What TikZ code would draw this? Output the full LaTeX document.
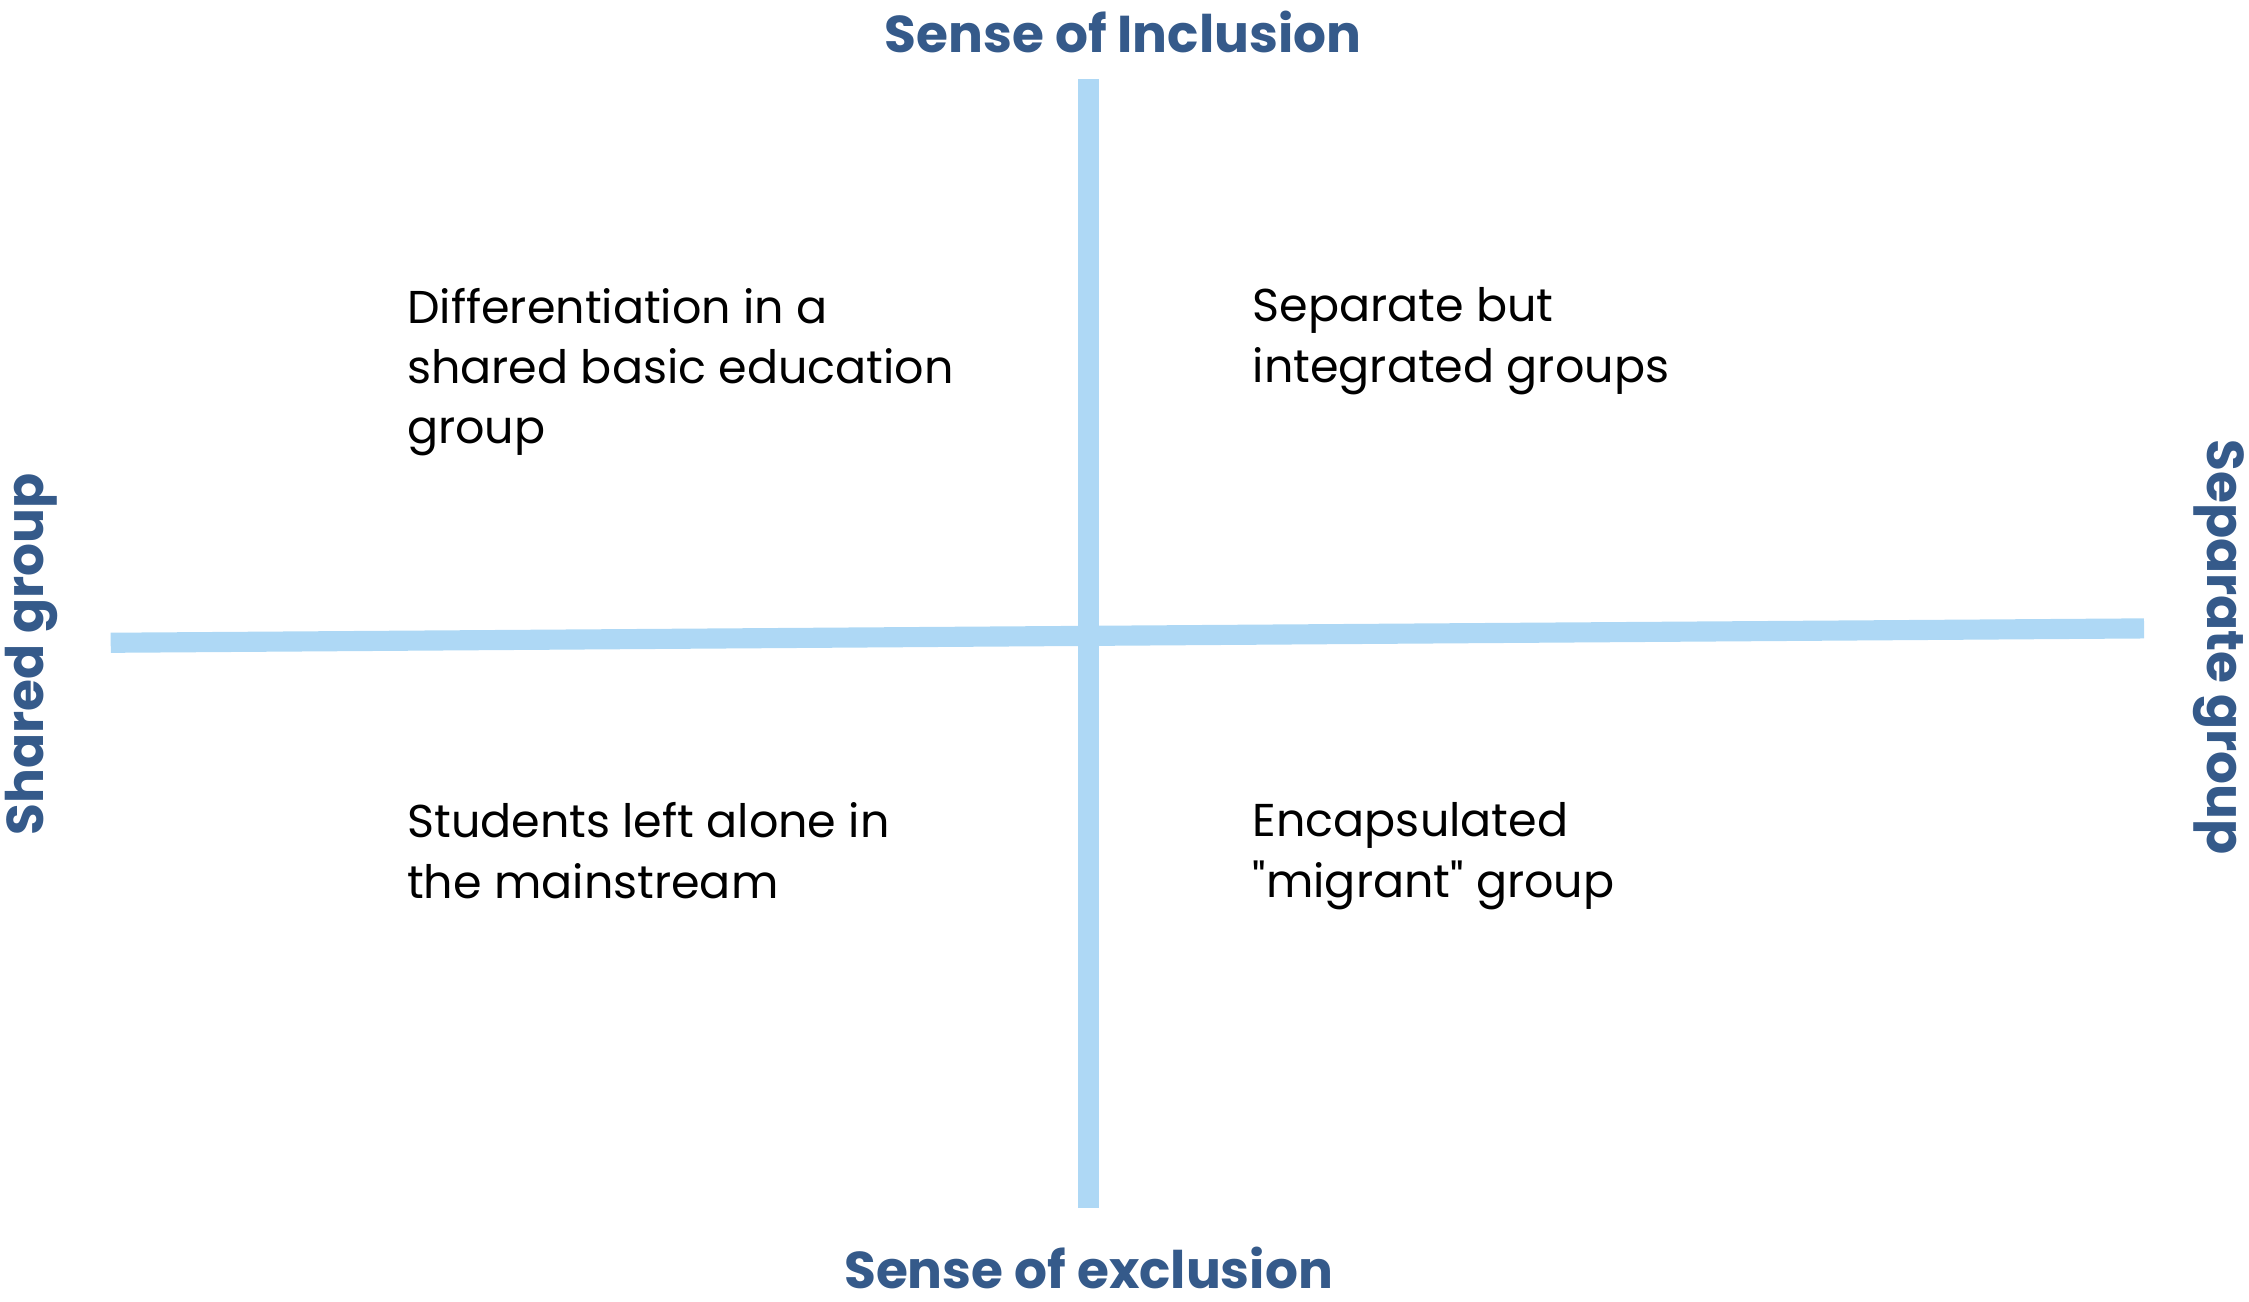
\documentclass[tikz,border=0pt]{standalone}
\usepackage{fontspec}
\setmainfont{Poppins}
\newfontfamily\qf{Poppins}[Ligatures=TeXOff]
\definecolor{axis}{HTML}{AED8F5}
\definecolor{ttl}{HTML}{355A8A}
\begin{document}
\begin{tikzpicture}[x=1pt,y=-1pt,
  ttlstyle/.style={font=\fontsize{36}{44}\selectfont\bfseries, text=ttl, inner sep=0pt},
  body/.style={font=\fontsize{32}{42}\selectfont, align=left, anchor=north west, inner sep=0pt, text=black}]
\useasboundingbox (0,0) rectangle (1564,905);
\coordinate (vt) at (757,55); \coordinate (vb) at (757,840);
\coordinate (hl) at (77,447); \coordinate (hr) at (1491,437);
\draw[axis, line width=14pt] (vt) -- (vb);
\draw[axis, line width=14pt] (hl) -- (hr);
\node[ttlstyle] (top) at (781,22) {Sense of Inclusion};
\node[ttlstyle] (bot) at (757,882) {Sense of exclusion};
\node[ttlstyle, rotate=90] (lft) at (22,455) {Shared group};
\node[ttlstyle, rotate=-90] (rgt) at (1543,450) {Separate group};
\node[body] (q1) at (283,200) {Differentiation in a\\shared basic education\\group};
\node[body] (q2) at (871,200) {Separate but\\integrated groups};
\node[body] (q3) at (283,558) {Students left alone in\\the mainstream};
\node[body] (q4) at (871,558) {Encapsulated\\{\qf"}migrant{\qf"} group};
\end{tikzpicture}
\end{document}
